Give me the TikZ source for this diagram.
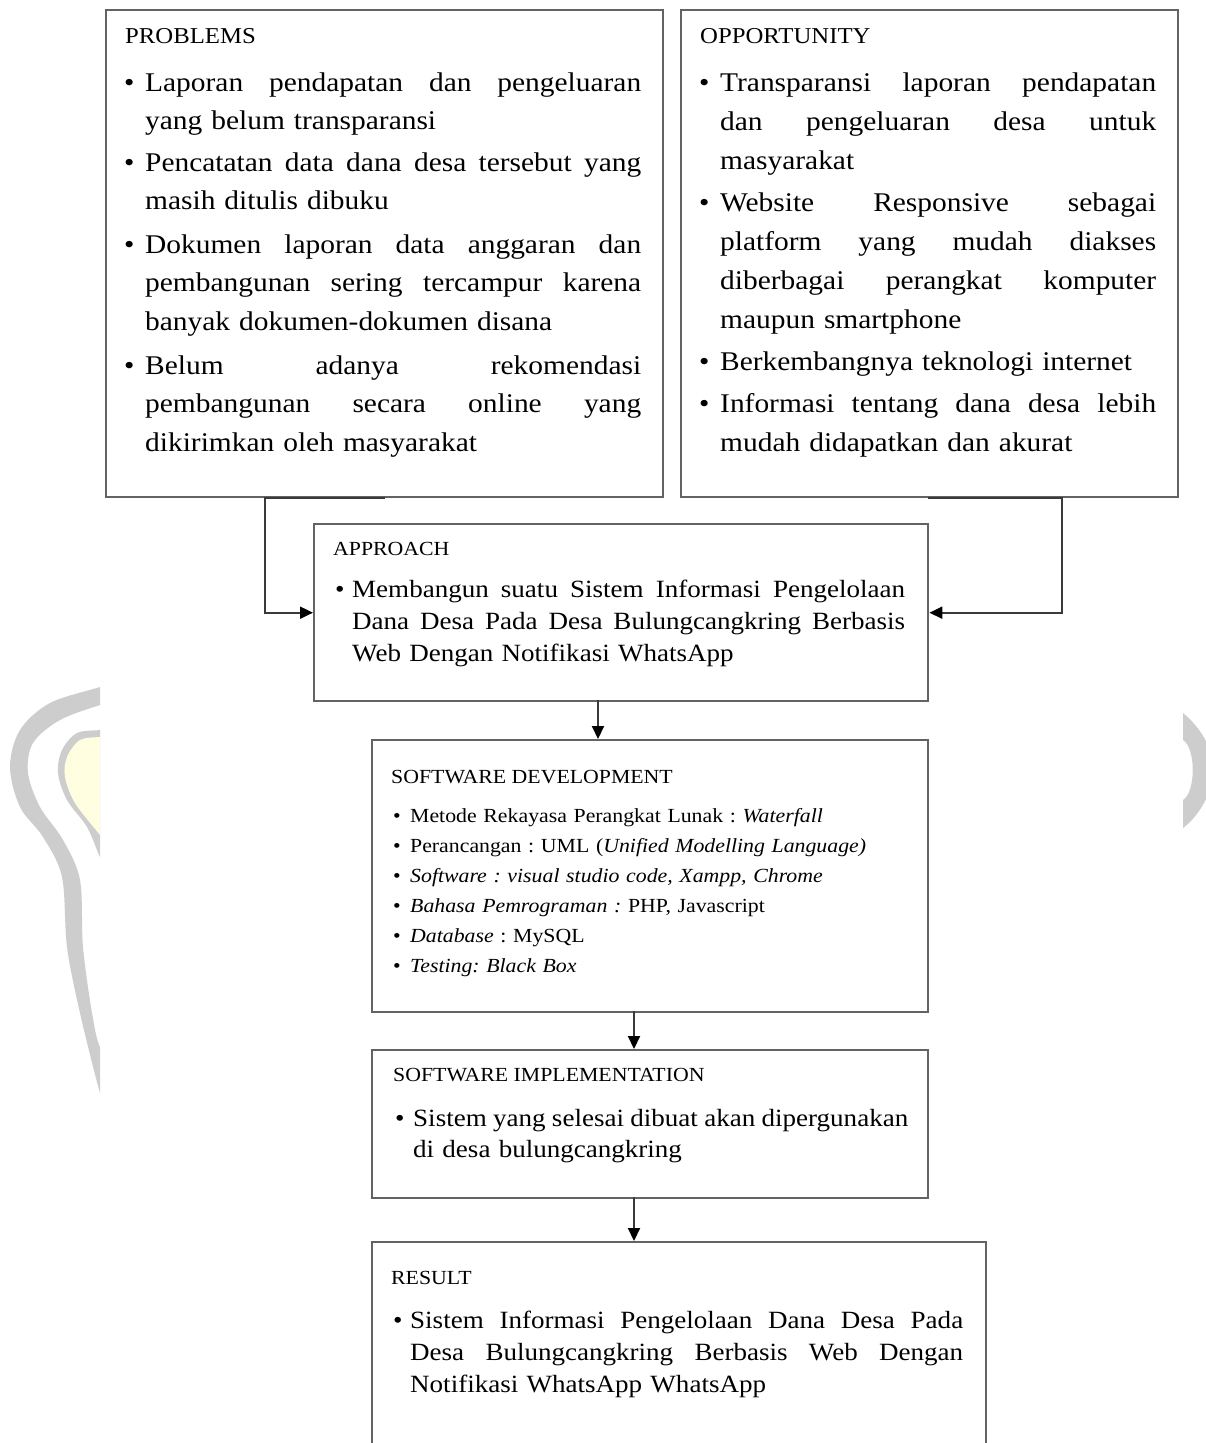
\documentclass[tikz,border=0pt]{standalone}
\usepackage{fontspec}
\setmainfont{Liberation Serif}[FakeStretch=1.09]
\usetikzlibrary{arrows.meta}
\definecolor{boxc}{HTML}{636363}
\definecolor{connc}{HTML}{3A3A3A}
\definecolor{wmgrey}{HTML}{CDCDCD}
\definecolor{wmyellow}{HTML}{FFFEE0}
\frenchspacing
\newcommand\J[2]{\leavevmode\hbox to #1{\spaceskip=0.25em plus 3em minus 0.08em\relax #2}}
\newcommand\fTop{\fontsize{27}{38.5}\selectfont}
\newcommand\fTopB{\fontsize{27}{39}\selectfont}
\newcommand\fHeadA{\fontsize{22.7}{27}\selectfont}
\newcommand\fHeadB{\fontsize{20}{24}\selectfont}
\newcommand\fMid{\fontsize{24.8}{32}\selectfont}
\newcommand\fMidB{\fontsize{24.8}{31}\selectfont}
\newcommand\fList{\fontsize{20}{30}\selectfont}
\begin{document}
\begin{tikzpicture}[x=1pt,y=-1pt,
  box/.style={draw=boxc, line width=2.4pt, inner sep=0pt, anchor=north west},
  txt/.style={inner sep=0pt, anchor=base west},
  conn/.style={draw=connc, line width=2pt, -{Triangle[length=13pt,width=12pt,fill=black,color=black]}},
  wm/.style={fill=wmgrey, draw=none}]
\fill[white] (0,0) rectangle (1206,1443);
\clip (0,0) rectangle (1206,1443);
% watermark
\begin{scope}
\clip (0,0) rectangle (100,1443) (1183,0) rectangle (1206,1443);
\fill[wm] plot[smooth cycle, tension=0.55] coordinates {(118,680) (100,687) (50,703) (20,730) (10,767) (20,807) (43,837) (62,877) (67,947) (80,1013) (100,1093) (112,1125) (112,1050) (100,1047) (92,1013) (83,947) (80,880) (63,840) (40,807) (28,773) (33,743) (60,720) (100,705) (118,700)};
\fill[wm] plot[smooth cycle, tension=0.55] coordinates {(118,727) (100,730) (77,733) (62,750) (58,773) (67,800) (87,827) (100,857) (112,880) (150,800)};
\fill[wmyellow] plot[smooth cycle, tension=0.55] coordinates {(118,736) (100,737) (80,740) (67,757) (65,777) (75,803) (100,835) (112,850) (150,790)};
\fill[wm] (1183,713) .. controls (1196,724) and (1204,735) .. (1210,750) -- (1210,790) .. controls (1204,805) and (1196,818) .. (1183,828) -- (1183,800) .. controls (1196,792) and (1196,748) .. (1183,740) -- cycle;
\end{scope}
% boxes
\node[box, minimum width=557pt, minimum height=487pt] (problems) at (105,9) {};
\node[box, minimum width=497pt, minimum height=487pt] (opportunity) at (680,9) {};
\node[box, minimum width=614pt, minimum height=177pt] (approach) at (313,523) {};
\node[box, minimum width=556pt, minimum height=272pt] (sd) at (371,739) {};
\node[box, minimum width=556pt, minimum height=148pt] (si) at (371,1049) {};
\node[box, minimum width=614pt, minimum height=240pt] (result) at (371,1241) {};
% problems
\node[txt, font=\fHeadA] (ph) at (125,43) {PROBLEMS};
\node[txt, font=\fTop] (p1b) at (124,91) {\textbullet};
\node[txt, font=\fTop, text width=496pt] (p1) at (145,91) {\J{496pt}{Laporan pendapatan dan pengeluaran}\\yang belum transparansi};
\node[txt, font=\fTop] (p2b) at (124,171) {\textbullet};
\node[txt, font=\fTop, text width=496pt] (p2) at (145,171) {\J{496pt}{Pencatatan data dana desa tersebut yang}\\masih ditulis dibuku};
\node[txt, font=\fTop] (p3b) at (124,253) {\textbullet};
\node[txt, font=\fTop, text width=496pt] (p3) at (145,253) {\J{496pt}{Dokumen laporan data anggaran dan}\\\J{496pt}{pembangunan sering tercampur karena}\\banyak dokumen-dokumen disana};
\node[txt, font=\fTop] (p4b) at (124,374) {\textbullet};
\node[txt, font=\fTop, text width=496pt] (p4) at (145,374) {\J{496pt}{Belum adanya rekomendasi}\\\J{496pt}{pembangunan secara online yang}\\dikirimkan oleh masyarakat};
% opportunity
\node[txt, font=\fHeadA] (oh) at (700,43) {OPPORTUNITY};
\node[txt, font=\fTopB] (o1b) at (699,91) {\textbullet};
\node[txt, font=\fTopB, text width=436pt] (o1) at (720,91) {\J{436pt}{Transparansi laporan pendapatan}\\\J{436pt}{dan pengeluaran desa untuk}\\masyarakat};
\node[txt, font=\fTopB] (o2b) at (699,211) {\textbullet};
\node[txt, font=\fTopB, text width=436pt] (o2) at (720,211) {\J{436pt}{Website Responsive sebagai}\\\J{436pt}{platform yang mudah diakses}\\\J{436pt}{diberbagai perangkat komputer}\\maupun smartphone};
\node[txt, font=\fTopB] (o3b) at (699,370) {\textbullet};
\node[txt, font=\fTopB, text width=436pt] (o3) at (720,370) {Berkembangnya teknologi internet};
\node[txt, font=\fTopB] (o4b) at (699,412) {\textbullet};
\node[txt, font=\fTopB, text width=436pt] (o4) at (720,412) {\J{436pt}{Informasi tentang dana desa lebih}\\mudah didapatkan dan akurat};
% approach
\node[txt, font=\fHeadB] (ah) at (333,555) {APPROACH};
\node[txt, font=\fMid] (a1b) at (335,597) {\textbullet};
\node[txt, font=\fMid, text width=553pt] (a1) at (352,597) {\J{553pt}{Membangun suatu Sistem Informasi Pengelolaan}\\\J{553pt}{Dana Desa Pada Desa Bulungcangkring Berbasis}\\Web Dengan Notifikasi WhatsApp};
% software development
\node[txt, font=\fHeadB] (sdh) at (391,783) {SOFTWARE DEVELOPMENT};
\node[txt, font=\fList, text width=520pt] (sdl) at (393,822) {%
\makebox[17pt][l]{\textbullet}Metode Rekayasa Perangkat Lunak : \textit{Waterfall}\\
\makebox[17pt][l]{\textbullet}Perancangan : UML (\textit{Unified Modelling Language)}\\
\makebox[17pt][l]{\textbullet}\textit{Software : visual studio code, Xampp, Chrome}\\
\makebox[17pt][l]{\textbullet}\textit{Bahasa Pemrograman :} PHP, Javascript\\
\makebox[17pt][l]{\textbullet}\textit{Database} : MySQL\\
\makebox[17pt][l]{\textbullet}\textit{Testing: Black Box}};
% software implementation
\node[txt, font=\fHeadB] (sih) at (393,1081) {SOFTWARE IMPLEMENTATION};
\node[txt, font=\fMidB] (s1b) at (395,1126) {\textbullet};
\node[txt, font=\fMidB, text width=495pt] (s1) at (413,1126) {\J{495pt}{Sistem yang selesai dibuat akan dipergunakan}\\di desa bulungcangkring};
% result
\node[txt, font=\fHeadB] (rh) at (391,1284) {RESULT};
\node[txt, font=\fMid] (r1b) at (393,1328) {\textbullet};
\node[txt, font=\fMid, text width=553pt] (r1) at (410,1328) {\J{553pt}{Sistem Informasi Pengelolaan Dana Desa Pada}\\\J{553pt}{Desa Bulungcangkring Berbasis Web Dengan}\\Notifikasi WhatsApp WhatsApp};
% connectors
\coordinate (pl) at (385,498);
\coordinate (plc) at (265,498);
\draw[conn] (pl) -- (plc) |- (approach.west);
\coordinate (pr) at (928,498);
\coordinate (prc) at (1062,498);
\draw[conn] (pr) -- (prc) |- (approach.east);
\coordinate (c1) at (598,700);
\draw[conn] (c1) -- (c1 |- sd.north);
\coordinate (c2) at (634,1011);
\draw[conn] (c2) -- (c2 |- si.north);
\coordinate (c3) at (634,1197);
\draw[conn] (c3) -- (c3 |- result.north);
\end{tikzpicture}
\end{document}
